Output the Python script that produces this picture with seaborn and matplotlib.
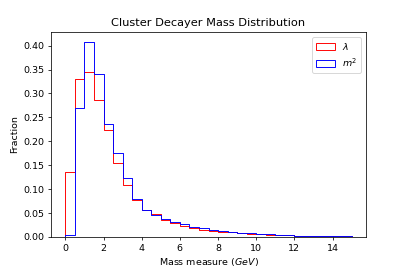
import numpy as np
import matplotlib
matplotlib.use("Agg")
import matplotlib.pyplot as plt
from matplotlib.patches import Patch
import seaborn as sns

# 30 bins of width 0.5 between 0 and 15, plus an empty bin each side so the
# step outline drops to zero at both ends
centers = np.arange(-0.25, 15.5, 0.5)

lam = [0, 0.135, 0.330, 0.344, 0.286, 0.223, 0.155, 0.108, 0.077, 0.057, 0.048,
       0.035, 0.029, 0.023, 0.018, 0.015, 0.0126, 0.011, 0.0098, 0.0084, 0.007,
       0.0056, 0.0049, 0.0042, 0.0035, 0.0028, 0.0025, 0.002, 0.0018, 0.0015, 0.0012, 0]
m2 = [0, 0.004, 0.270, 0.408, 0.341, 0.237, 0.175, 0.124, 0.080, 0.057, 0.045,
      0.037, 0.031, 0.028, 0.021, 0.018, 0.0147, 0.012, 0.0105, 0.009, 0.0084,
      0.0063, 0.0056, 0.0049, 0.0035, 0.0028, 0.0025, 0.002, 0.0018, 0.0015, 0.0012, 0]

fig = plt.figure(figsize=(407 / 68, 271 / 68), dpi=68)
ax = fig.add_axes([51 / 407, 34 / 271, 315 / 407, 205 / 271])

sns.histplot(x=centers, weights=lam, binwidth=0.5, binrange=(-0.5, 15.5), element="step",
             fill=False, color="red", linewidth=1.0, ax=ax)
sns.histplot(x=centers, weights=m2, binwidth=0.5, binrange=(-0.5, 15.5), element="step",
             fill=False, color="blue", linewidth=1.0, ax=ax)

ax.set_xlim(-0.75, 15.75)
ax.set_ylim(0, 0.4284)
ax.set_xticks(np.arange(0, 15, 2))
ax.set_yticks(np.arange(0, 0.41, 0.05))
ax.set_yticklabels([f"{v:.2f}" for v in np.arange(0, 0.41, 0.05)])
ax.set_title("Cluster Decayer Mass Distribution")
ax.set_xlabel("Mass measure ($GeV$)")
ax.set_ylabel("Fraction")

handles = [Patch(facecolor="none", edgecolor="red"),
           Patch(facecolor="none", edgecolor="blue")]
ax.legend(handles, [r"$\lambda$", r"$m^2$"], loc="upper right")

fig.savefig("out.png", dpi=68)
